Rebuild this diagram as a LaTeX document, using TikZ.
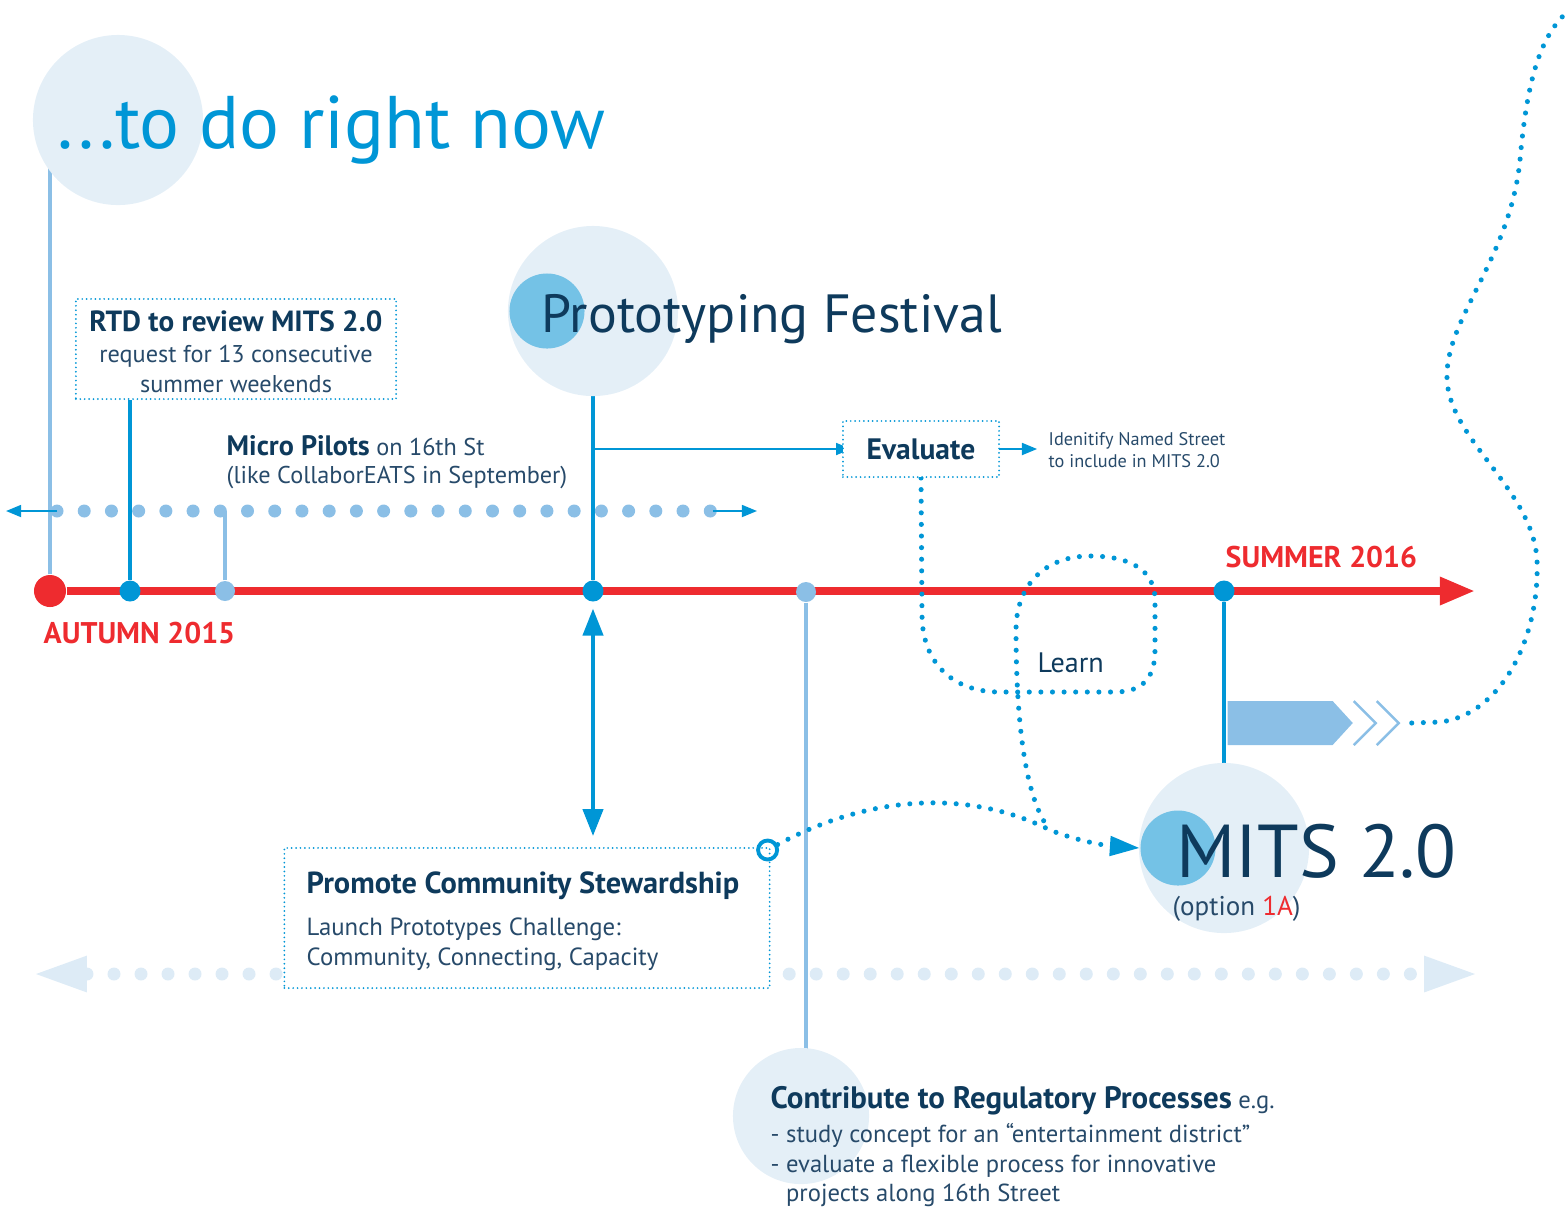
\documentclass[tikz,border=0pt]{standalone}
\usepackage{fontspec}
\setmainfont{PT Sans}
\usepackage{xcolor}
\usepackage{tikz}
\usetikzlibrary{arrows.meta,positioning,calc,shapes.symbols}
\definecolor{navy}{HTML}{0E3A5C}
\definecolor{bodyink}{HTML}{274A6A}
\definecolor{brightblue}{HTML}{0096D6}
\definecolor{paleblue}{HTML}{8BBFE6}
\definecolor{haloblue}{HTML}{E4EFF7}
\definecolor{midblue}{HTML}{74C2E6}
\definecolor{timered}{HTML}{EE2B2F}
\definecolor{ghostblue}{HTML}{DDEBF6}
\newcommand{\pxfont}[2]{\fontsize{#1}{#2}\selectfont}
\newcommand{\textstack}[2][l]{\begin{tabular}[t]{@{}#1@{}}#2\end{tabular}}
\pgfdeclarelayer{back}
\pgfsetlayers{back,main}

\begin{document}
\begin{tikzpicture}[
  x=0.01cm,y=-0.01cm,
  every node/.style={inner sep=0pt,text=navy},
  halo/.style={circle,fill=haloblue,minimum size=1.70cm},
  core/.style={circle,fill=midblue,minimum size=0.75cm},
  redstop/.style={circle,fill=timered,minimum size=0.32cm},
  stop/.style={circle,fill=brightblue,minimum size=0.21cm},
  softstop/.style={circle,fill=paleblue,minimum size=0.20cm},
  notebox/.style={draw=brightblue,line width=0.55pt,dash pattern=on 0pt off 1.25pt,line cap=round,fill=white},
  timeline/.style={draw=timered,line width=2.3pt,-{Triangle[length=10pt,width=7.5pt]}},
  stem/.style={draw=brightblue,line width=1.2pt},
  softstem/.style={draw=paleblue,line width=1.3pt},
  flow/.style={stem,{Triangle[length=7.7pt,width=5.7pt]}-{Triangle[length=7.7pt,width=5.7pt]}},
  thinflow/.style={draw=brightblue,line width=0.55pt,-{Triangle[length=4.3pt,width=3.4pt]}},
  trail/.style={draw=brightblue,line width=1.45pt,dash pattern=on 0pt off 3.3pt,line cap=round},
  beads/.style={draw=paleblue,line width=3.7pt,dash pattern=on 0pt off 7.74pt,line cap=round},
  ghost/.style={draw=ghostblue,line width=3.7pt,dash pattern=on 0pt off 7.68pt,line cap=round,
    {Triangle[length=14.5pt,width=10.5pt,line width=0pt]}-{Triangle[length=14.5pt,width=10.5pt,line width=0pt]}},
  chevron/.style={draw=paleblue,line width=0.7pt},
  body/.style={text=bodyink,font=\pxfont{6.9}{8.5}}
]
  \useasboundingbox (0,0) rectangle (1567,1211);

  % circles and titles
  \node[halo] (nowhalo) at (118,120) {};
  \node[anchor=base west,text=brightblue,font=\pxfont{21.2}{24}] (nowtitle) at (57,148) {...to do right now};
  \node[halo] (festhalo) at (593,311) {};
  \node[core] (festcore) at (547,311) {};
  \node[anchor=base west,font=\pxfont{15.3}{18}] (festtitle) at (541,332) {Prototyping Festival};
  \node[halo] (mitshalo) at (1224,848) {};
  \node[core] (mitscore) at (1178,848) {};
  \node[anchor=base west,font=\pxfont{21.3}{26}] (mitstitle) at (1176,877) {MITS 2.0};
  \node[anchor=base west,text=bodyink,font=\pxfont{7.7}{9}] (mitsnote) at (1172,915) {(option \textcolor{timered}{1A})};
  \node[halo,minimum size=1.36cm] (reghalo) at (801,1116) {};

  % time line stops
  \node[redstop] (autumn) at (50,591) {};
  \node[stop] (rtdstop) at (130,591) {};
  \node[softstop] (pilotstop) at (225,591) {};
  \node[stop] (feststop) at (593,591) {};
  \node[softstop] (regstop) at (806,592) {};
  \node[stop] (summerstop) at (1224,591) {};
  \coordinate (tlend) at (1475,591);
  \node[anchor=base west,text=timered,font=\bfseries\pxfont{8.5}{10}] (autumnlabel) at (43,643) {AUTUMN 2015};
  \node[anchor=base west,text=timered,font=\bfseries\pxfont{8.5}{10}] (summerlabel) at (1225,567) {SUMMER 2016};

  % boxes and notes
  \node[notebox,body,minimum width=3.20cm,minimum height=1.00cm] (rtdbox) at (236,349) {};
  \node[body,anchor=base] (rtdtext) at (236,331)
    {\textstack[c]{{\bfseries\color{navy}\pxfont{8.3}{8.5}RTD to review MITS 2.0}\\[0.4pt]request for 13 consecutive\\summer weekends}};
  \node[body,anchor=base west,font=\pxfont{6.9}{8}] (pilottext) at (226,455)
    {\textstack{{\bfseries\color{navy}\pxfont{8}{8}Micro Pilots} on 16th St\\(like CollaborEATS in September)}};
  \node[notebox,minimum width=1.56cm,minimum height=0.56cm,font=\bfseries\pxfont{8.4}{10}] (evalbox) at (921,449) {Evaluate};
  \node[body,anchor=base west,font=\pxfont{5.2}{6.5}] (evalnote) at (1048,445)
    {\textstack{Idenitify Named Street\\to include in MITS 2.0}};
  \node[anchor=base west,font=\pxfont{8}{10}] (learn) at (1037,672) {Learn};
  \node[notebox,body,minimum width=4.85cm,minimum height=1.40cm] (promotebox) at (527,918) {};
  \node[body,anchor=base west,font=\pxfont{7.05}{8.5}] (promotetext) at (306,893)
    {\textstack{{\bfseries\color{navy}\pxfont{8.65}{9}Promote Community Stewardship}\\[3.5pt]Launch Prototypes Challenge:\\Community, Connecting, Capacity}};
  \node[circle,draw=brightblue,line width=1.1pt,minimum size=0.19cm] (ring) at ([xshift=-0.03cm,yshift=-0.03cm]promotebox.north east) {};
  \node[body,anchor=base west,font=\pxfont{7}{8.5}] (regtext) at (770,1108)
    {\textstack{{\bfseries\color{navy}\pxfont{8.8}{8.5}Contribute to Regulatory Processes} e.g.\\[1.2pt]- study concept for an “entertainment district”\\- evaluate a flexible process for innovative\\\phantom{- }projects along 16th Street}};

  % pennant
  \node[signal,signal to=east,signal pointer angle=95,fill=paleblue,minimum width=1.25cm,minimum height=0.44cm,anchor=west] (pennant) at (1227,723) {};
  \draw[chevron] ($(pennant.east)+(0,-22)$) -- ++(22,22) -- ++(-22,22);
  \draw[chevron] ($(pennant.east)+(23,-22)$) -- ++(22,22) -- ++(-22,22);
  \coordinate (outro) at ($(pennant.east)+(58,0)$);
  \coordinate (skyend) at (1563,16);

  \coordinate (pilotL) at (57,511);
  \coordinate (pilotR) at (713,511);
  \coordinate (pilotLtip) at (6,511);
  \coordinate (pilotRtip) at (757,511);
  \coordinate (ghostL) at (36,974);
  \coordinate (ghostR) at (1475,974);
  \coordinate (merge) at (1050,830);

  \begin{pgfonlayer}{back}
    \draw[ghost] (ghostL) -- (ghostR);
    \draw[timeline] (autumn) -- (tlend);
    \draw[softstem] (autumn) -- (autumn |- nowhalo.center);
    \draw[stem] (rtdstop) -- (rtdstop |- rtdbox.south);
    \draw[beads] (pilotL) -- (pilotR);
    \draw[thinflow] (pilotL) -- (pilotLtip);
    \draw[thinflow] (pilotR) -- (pilotRtip);
    \draw[softstem] (pilotstop) -- (pilotstop |- pilotL);
    \draw[stem] (feststop) -- (feststop |- festhalo.center);
    \draw[thinflow,shorten >=-2.6pt] (feststop |- evalbox.west) -- (evalbox.west);
    \draw[thinflow,shorten <=-4.3pt,shorten >=3.1pt] (evalbox.east) -- (evalnote.west |- evalbox.east);
    \draw[flow,shorten <=1.8pt,shorten >=3.1pt] (feststop) -- (feststop |- promotebox.north);
    \draw[softstem] (regstop) -- (regstop |- reghalo.center);
    \draw[stem,line width=1.4pt] (summerstop) -- (mitshalo.center);
    \draw[trail] (evalbox.south) -- (922,615) .. controls (922,660) and (950,692) .. (1000,692)
      -- (1115,692) .. controls (1145,692) and (1155,675) .. (1155,650) -- (1155,600)
      .. controls (1155,570) and (1130,556) .. (1090,556) .. controls (1045,556) and (1016,585) .. (1016,630)
      .. controls (1016,720) and (1025,800) .. (merge);
    \draw[trail,-{Triangle[length=8.5pt,width=5.4pt]}] (ring) .. controls (860,800) and (960,785) .. (merge)
      .. controls (1080,842) and (1110,846) .. (mitscore.west);
    \draw[trail] (outro) -- (1440,722) .. controls (1500,715) and (1540,640) .. (1537,560)
      .. controls (1533,490) and (1450,440) .. (1447,380) .. controls (1444,320) and (1510,260) .. (1520,160)
      .. controls (1527,80) and (1540,40) .. (skyend);
  \end{pgfonlayer}
\end{tikzpicture}
\end{document}
